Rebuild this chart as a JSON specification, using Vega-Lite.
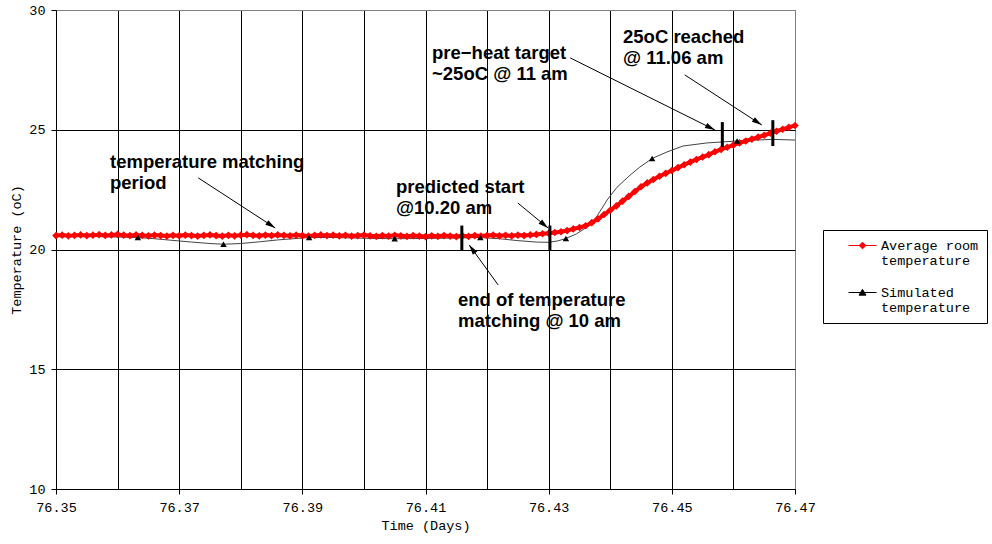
{
  "$schema": "https://vega.github.io/schema/vega-lite/v6.json",
  "width": 739,
  "height": 479,
  "autosize": "none",
  "padding": {"left": 56, "top": 10, "right": 197, "bottom": 55},
  "background": "white",
  "config": {
    "view": {"stroke": "#808080", "strokeWidth": 1},
    "axis": {
      "labelFont": "Liberation Mono", "labelFontSize": 13.5, "labelColor": "black",
      "titleFont": "Liberation Mono", "titleFontSize": 13.5, "titleFontWeight": "normal", "titleColor": "black",
      "domainColor": "black", "tickColor": "black", "tickSize": 5,
      "gridOpacity": 1, "gridWidth": 1, "labelFlush": false, "labelOverlap": false
    }
  },
  "datasets": {
    "avg": [
      {"t":76.350,"temp":20.58},{"t":76.351,"temp":20.60},{"t":76.352,"temp":20.57},{"t":76.353,"temp":20.59},{"t":76.354,"temp":20.61},
      {"t":76.355,"temp":20.58},{"t":76.356,"temp":20.60},{"t":76.357,"temp":20.62},{"t":76.358,"temp":20.59},{"t":76.359,"temp":20.61},
      {"t":76.360,"temp":20.63},{"t":76.361,"temp":20.60},{"t":76.362,"temp":20.58},{"t":76.363,"temp":20.61},{"t":76.364,"temp":20.59},
      {"t":76.365,"temp":20.57},{"t":76.366,"temp":20.60},{"t":76.367,"temp":20.58},{"t":76.368,"temp":20.56},{"t":76.369,"temp":20.59},
      {"t":76.370,"temp":20.57},{"t":76.371,"temp":20.60},{"t":76.372,"temp":20.58},{"t":76.373,"temp":20.56},{"t":76.374,"temp":20.59},
      {"t":76.375,"temp":20.61},{"t":76.376,"temp":20.58},{"t":76.377,"temp":20.56},{"t":76.378,"temp":20.59},{"t":76.379,"temp":20.57},
      {"t":76.380,"temp":20.60},{"t":76.381,"temp":20.62},{"t":76.382,"temp":20.59},{"t":76.383,"temp":20.57},{"t":76.384,"temp":20.60},
      {"t":76.385,"temp":20.58},{"t":76.386,"temp":20.61},{"t":76.387,"temp":20.59},{"t":76.388,"temp":20.57},{"t":76.389,"temp":20.60},
      {"t":76.390,"temp":20.58},{"t":76.391,"temp":20.56},{"t":76.392,"temp":20.59},{"t":76.393,"temp":20.61},{"t":76.394,"temp":20.58},
      {"t":76.395,"temp":20.60},{"t":76.396,"temp":20.57},{"t":76.397,"temp":20.59},{"t":76.398,"temp":20.56},{"t":76.399,"temp":20.58},
      {"t":76.400,"temp":20.60},{"t":76.401,"temp":20.57},{"t":76.402,"temp":20.55},{"t":76.403,"temp":20.58},{"t":76.404,"temp":20.56},
      {"t":76.405,"temp":20.59},{"t":76.406,"temp":20.57},{"t":76.407,"temp":20.55},{"t":76.408,"temp":20.58},{"t":76.409,"temp":20.56},
      {"t":76.410,"temp":20.54},{"t":76.411,"temp":20.57},{"t":76.412,"temp":20.55},{"t":76.413,"temp":20.58},{"t":76.414,"temp":20.56},
      {"t":76.415,"temp":20.54},{"t":76.416,"temp":20.57},{"t":76.417,"temp":20.55},{"t":76.418,"temp":20.58},{"t":76.419,"temp":20.56},
      {"t":76.420,"temp":20.58},{"t":76.421,"temp":20.60},{"t":76.422,"temp":20.57},{"t":76.423,"temp":20.59},{"t":76.424,"temp":20.57},
      {"t":76.425,"temp":20.60},{"t":76.426,"temp":20.58},{"t":76.427,"temp":20.61},{"t":76.428,"temp":20.63},{"t":76.429,"temp":20.66},
      {"t":76.430,"temp":20.68},{"t":76.431,"temp":20.71},{"t":76.432,"temp":20.74},{"t":76.433,"temp":20.79},{"t":76.434,"temp":20.86},
      {"t":76.435,"temp":20.92},{"t":76.436,"temp":20.99},{"t":76.437,"temp":21.12},{"t":76.438,"temp":21.28},{"t":76.439,"temp":21.46},
      {"t":76.440,"temp":21.64},{"t":76.441,"temp":21.82},{"t":76.442,"temp":22.02},{"t":76.443,"temp":22.22},{"t":76.444,"temp":22.42},
      {"t":76.445,"temp":22.62},{"t":76.446,"temp":22.78},{"t":76.447,"temp":22.92},{"t":76.448,"temp":23.06},{"t":76.449,"temp":23.18},
      {"t":76.450,"temp":23.30},{"t":76.451,"temp":23.42},{"t":76.452,"temp":23.54},{"t":76.453,"temp":23.65},{"t":76.454,"temp":23.76},
      {"t":76.455,"temp":23.86},{"t":76.456,"temp":23.96},{"t":76.457,"temp":24.08},{"t":76.458,"temp":24.18},{"t":76.459,"temp":24.27},
      {"t":76.460,"temp":24.36},{"t":76.461,"temp":24.45},{"t":76.462,"temp":24.53},{"t":76.463,"temp":24.61},{"t":76.464,"temp":24.69},
      {"t":76.465,"temp":24.77},{"t":76.466,"temp":24.86},{"t":76.467,"temp":24.94},{"t":76.468,"temp":25.02},{"t":76.469,"temp":25.10},
      {"t":76.470,"temp":25.18}
    ],
    "sim": [
      {"t":76.350,"temp":20.56},{"t":76.355,"temp":20.55},{"t":76.360,"temp":20.52},{"t":76.3633,"temp":20.50},
      {"t":76.366,"temp":20.45},{"t":76.369,"temp":20.38},{"t":76.372,"temp":20.31},{"t":76.375,"temp":20.25},
      {"t":76.3772,"temp":20.22},{"t":76.380,"temp":20.25},{"t":76.383,"temp":20.32},{"t":76.386,"temp":20.40},
      {"t":76.389,"temp":20.46},{"t":76.3911,"temp":20.50},{"t":76.395,"temp":20.50},{"t":76.400,"temp":20.47},
      {"t":76.405,"temp":20.45},{"t":76.410,"temp":20.46},{"t":76.415,"temp":20.48},{"t":76.4189,"temp":20.50},
      {"t":76.422,"temp":20.45},{"t":76.425,"temp":20.37},{"t":76.428,"temp":20.31},{"t":76.430,"temp":20.30},
      {"t":76.4315,"temp":20.36},{"t":76.4328,"temp":20.46},{"t":76.4345,"temp":20.65},{"t":76.436,"temp":20.90},
      {"t":76.4375,"temp":21.25},{"t":76.4395,"temp":22.07},{"t":76.4411,"temp":22.60},{"t":76.4432,"temp":23.10},
      {"t":76.4448,"temp":23.44},{"t":76.4468,"temp":23.80},{"t":76.4492,"temp":24.07},{"t":76.4518,"temp":24.32},
      {"t":76.4557,"temp":24.45},{"t":76.4606,"temp":24.53},{"t":76.4664,"temp":24.60},{"t":76.470,"temp":24.57}
    ],
    "simMarkers": [
      {"t":76.3633,"temp":20.50},{"t":76.3772,"temp":20.22},{"t":76.3911,"temp":20.50},{"t":76.405,"temp":20.45},
      {"t":76.4189,"temp":20.50},{"t":76.4328,"temp":20.46},{"t":76.4468,"temp":23.80},{"t":76.4606,"temp":24.53}
    ],
    "bars": [
      {"t":76.4159,"lo":19.95,"hi":21.0},{"t":76.4302,"lo":19.95,"hi":21.0},
      {"t":76.4582,"lo":24.28,"hi":25.32},{"t":76.4664,"lo":24.32,"hi":25.40}
    ],
    "notes": [
      {"t":76.35877,"temp":23.40,"label":"temperature matching\nperiod"},
      {"t":76.40521,"temp":22.36,"label":"predicted start\n@10.20 am"},
      {"t":76.41528,"temp":17.64,"label":"end of temperature\nmatching @ 10 am"},
      {"t":76.41106,"temp":27.95,"label":"pre\u2212heat target\n~25oC @ 11 am"},
      {"t":76.44207,"temp":28.62,"label":"25oC reached\n@ 11.06 am"}
    ],
    "arrows": [
      {"t1":76.3731,"v1":22.99,"t2":76.3856,"v2":20.90},
      {"t1":76.4250,"v1":21.94,"t2":76.4299,"v2":20.90},
      {"t1":76.4218,"v1":18.52,"t2":76.4171,"v2":20.19},
      {"t1":76.4335,"v1":28.00,"t2":76.4570,"v2":24.99},
      {"t1":76.4521,"v1":27.29,"t2":76.4646,"v2":25.20}
    ]
  },
  "layer": [
    {
      "data": {"name": "sim"},
      "mark": {"type": "line", "stroke": "#444444", "strokeWidth": 1},
      "encoding": {
        "x": {"field": "t", "type": "quantitative", "title": "Time (Days)",
          "scale": {"domain": [76.35, 76.47], "nice": false, "zero": false},
          "axis": {
            "values": [76.35,76.36,76.37,76.38,76.39,76.40,76.41,76.42,76.43,76.44,76.45,76.46,76.47],
            "labelExpr": "round(datum.value*100) % 2 == 1 ? format(datum.value, '.2f') : ''",
            "grid": true,
            "gridColor": {"condition": {"test": "round(datum.value*100) == 7647", "value": "#808080"}, "value": "black"},
            "tickOpacity": {"condition": {"test": "round(datum.value*100) % 2 == 0", "value": 0}, "value": 1},
            "labelPadding": 6, "titlePadding": 5
          }
        },
        "y": {"field": "temp", "type": "quantitative", "title": "Temperature (oC)",
          "scale": {"domain": [10, 30], "nice": false, "zero": false},
          "axis": {
            "values": [10, 15, 20, 25, 30],
            "grid": true,
            "gridColor": {"condition": {"test": "datum.value == 30", "value": "#808080"}, "value": "black"},
            "labelPadding": 6, "titlePadding": 5
          }
        }
      }
    },
    {
      "data": {"name": "avg"},
      "mark": {"type": "line", "stroke": "#ff0000", "strokeWidth": 4},
      "encoding": {
        "x": {"field": "t", "type": "quantitative", "title": "Time (Days)"},
        "y": {"field": "temp", "type": "quantitative", "title": "Temperature (oC)"}
      }
    },
    {
      "data": {"name": "avg"},
      "mark": {"type": "point", "shape": "diamond", "filled": true, "color": "#ff0000", "size": 58, "opacity": 1},
      "encoding": {
        "x": {"field": "t", "type": "quantitative", "title": "Time (Days)"},
        "y": {"field": "temp", "type": "quantitative", "title": "Temperature (oC)"}
      }
    },
    {
      "data": {"name": "simMarkers"},
      "mark": {"type": "point", "shape": "triangle-up", "filled": true, "color": "black", "size": 42, "opacity": 1},
      "encoding": {
        "x": {"field": "t", "type": "quantitative", "title": "Time (Days)"},
        "y": {"field": "temp", "type": "quantitative", "title": "Temperature (oC)"}
      }
    },
    {
      "data": {"name": "bars"},
      "mark": {"type": "rule", "stroke": "black", "strokeWidth": 3},
      "encoding": {
        "x": {"field": "t", "type": "quantitative", "title": "Time (Days)"},
        "y": {"field": "lo", "type": "quantitative", "title": "Temperature (oC)"},
        "y2": {"field": "hi"}
      }
    },
    {
      "data": {"name": "arrows"},
      "mark": {"type": "rule", "stroke": "black", "strokeWidth": 1},
      "encoding": {
        "x": {"field": "t1", "type": "quantitative", "title": "Time (Days)"},
        "y": {"field": "v1", "type": "quantitative", "title": "Temperature (oC)"},
        "x2": {"field": "t2"},
        "y2": {"field": "v2"}
      }
    },
    {
      "data": {"name": "arrows"},
      "transform": [
        {"calculate": "atan2((datum.t2 - datum.t1) * 6158.3, (datum.v2 - datum.v1) * 23.95) * 180 / PI", "as": "ang"}
      ],
      "mark": {"type": "point", "shape": "M0,0L0.28,1L-0.28,1Z", "filled": true, "color": "black", "size": 400, "opacity": 1},
      "encoding": {
        "x": {"field": "t2", "type": "quantitative", "title": "Time (Days)"},
        "y": {"field": "v2", "type": "quantitative", "title": "Temperature (oC)"},
        "angle": {"field": "ang", "type": "quantitative", "scale": null}
      }
    },
    {
      "data": {"name": "notes"},
      "mark": {"type": "text", "align": "left", "baseline": "alphabetic", "font": "Liberation Sans", "fontWeight": "bold", "fontSize": 18.5, "lineBreak": "\n", "lineHeight": 21, "color": "black"},
      "encoding": {
        "x": {"field": "t", "type": "quantitative", "title": "Time (Days)"},
        "y": {"field": "temp", "type": "quantitative", "title": "Temperature (oC)"},
        "text": {"field": "label"}
      }
    },
    {
      "data": {"values": []},
      "mark": {"type": "point", "filled": true, "opacity": 1, "strokeWidth": 1},
      "encoding": {
        "fill": {"field": "series", "type": "nominal",
          "scale": {"domain": ["Average room temperature", "Simulated temperature"], "range": ["#ff0000", "#000000"]},
          "legend": {
            "title": null, "orient": "none", "legendX": 767, "legendY": 220,
            "strokeColor": "black", "fillColor": "white", "padding": 8, "cornerRadius": 0,
            "labelFont": "Liberation Mono", "labelFontSize": 13.5, "labelColor": "black", "labelLimit": 300,
            "symbolSize": 196, "symbolStrokeWidth": 1, "symbolOffset": 24, "labelOffset": 11, "rowPadding": 17,
            "labelBaseline": "middle",
            "labelExpr": "datum.label == 'Average room temperature' ? ['Average room', 'temperature'] : ['Simulated', 'temperature']"
          }
        },
        "stroke": {"field": "series", "type": "nominal",
          "scale": {"domain": ["Average room temperature", "Simulated temperature"], "range": ["#ff0000", "#000000"]},
          "legend": {
            "title": null, "orient": "none", "legendX": 767, "legendY": 220,
            "strokeColor": "black", "fillColor": "white", "padding": 8, "cornerRadius": 0,
            "labelFont": "Liberation Mono", "labelFontSize": 13.5, "labelColor": "black", "labelLimit": 300,
            "symbolSize": 196, "symbolStrokeWidth": 1, "symbolOffset": 24, "labelOffset": 11, "rowPadding": 17,
            "labelBaseline": "middle",
            "labelExpr": "datum.label == 'Average room temperature' ? ['Average room', 'temperature'] : ['Simulated', 'temperature']"
          }
        },
        "shape": {"field": "series", "type": "nominal",
          "scale": {"domain": ["Average room temperature", "Simulated temperature"],
            "range": ["M-2,0L2,0M0,-0.48L0.48,0L0,0.48L-0.48,0Z", "M-2,0L2,0M0,-0.45L0.5,0.38L-0.5,0.38Z"]},
          "legend": {
            "title": null, "orient": "none", "legendX": 767, "legendY": 220,
            "strokeColor": "black", "fillColor": "white", "padding": 8, "cornerRadius": 0,
            "labelFont": "Liberation Mono", "labelFontSize": 13.5, "labelColor": "black", "labelLimit": 300,
            "symbolSize": 196, "symbolStrokeWidth": 1, "symbolOffset": 24, "labelOffset": 11, "rowPadding": 17,
            "labelBaseline": "middle",
            "labelExpr": "datum.label == 'Average room temperature' ? ['Average room', 'temperature'] : ['Simulated', 'temperature']"
          }
        }
      }
    }
  ]
}
